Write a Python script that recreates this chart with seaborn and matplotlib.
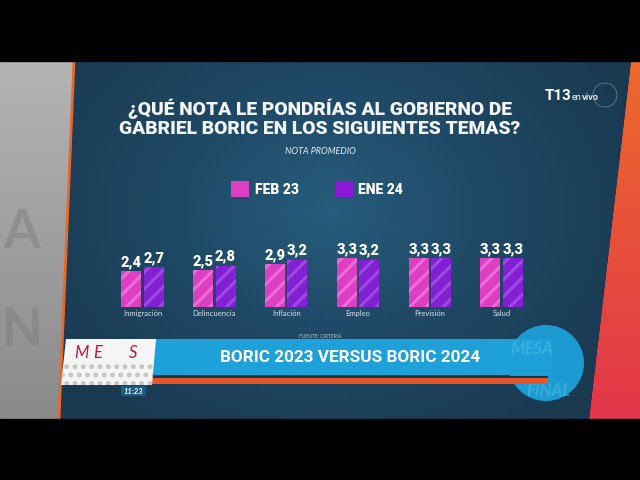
import numpy as np
import pandas as pd
import matplotlib
matplotlib.use("Agg")
import matplotlib.pyplot as plt
from matplotlib.patches import Polygon, Rectangle, Circle, Patch
import seaborn as sns

# ---- data ----
temas = ["Inmigración", "Delincuencia", "Inflación", "Empleo", "Previsión", "Salud"]
feb23 = [2.4, 2.5, 2.9, 3.3, 3.3, 3.3]
ene24 = [2.7, 2.8, 3.2, 3.2, 3.3, 3.3]
series = ["FEB 23", "ENE 24"]

title = "¿QUÉ NOTA LE PONDRÍAS AL GOBIERNO DE\nGABRIEL BORIC EN LOS SIGUIENTES TEMAS?"
subtitle = "NOTA PROMEDIO"
fuente = "FUENTE: CRITERIA"
banner = "BORIC 2023 VERSUS BORIC 2024"

df = pd.DataFrame({
    "tema": temas * 2,
    "periodo": [series[0]] * len(temas) + [series[1]] * len(temas),
    "nota": feb23 + ene24,
})

PINK, PINK_H = "#dc3fc2", "#ec6cd8"
PURP, PURP_H = "#8420d4", "#9d4ae2"

sns.set_theme(style="white")
plt.rcParams["font.family"] = ["Lato", "DejaVu Sans"]
plt.rcParams["hatch.linewidth"] = 2.2

fig = plt.figure(figsize=(6.4, 4.8), dpi=100)
fig.patch.set_facecolor("black")

# ---- background (pixel coords) ----
bg = fig.add_axes([0, 0, 1, 1], zorder=0)
bg.set_xlim(0, 640)
bg.set_ylim(480, 0)
bg.axis("off")

# left concrete strip
left_poly = Polygon([(0, 61), (74, 61), (59, 419), (0, 419)], closed=True,
                    facecolor="none", edgecolor="none")
bg.add_patch(left_poly)
gy = np.linspace(0, 1, 100)[:, None] * np.ones((1, 10))
im = bg.imshow(gy, extent=(0, 80, 419, 61), cmap=matplotlib.colors.LinearSegmentedColormap.from_list(
    "g", ["#b4b4b4", "#8a8a8a"]), aspect="auto", zorder=1)
im.set_clip_path(left_poly)
for t, yy in [("A", 232), ("N", 330)]:
    bg.text(22, yy, t, fontsize=38, fontweight="bold", color="#7c7c7c", alpha=0.45,
            ha="center", va="center", zorder=2)

# right orange/red strip
right_poly = Polygon([(631, 61), (640, 61), (640, 419), (589, 419)], closed=True,
                     facecolor="none", edgecolor="none")
bg.add_patch(right_poly)
im2 = bg.imshow(gy, extent=(585, 640, 419, 61), cmap=matplotlib.colors.LinearSegmentedColormap.from_list(
    "o", ["#ec6a2c", "#e2364a"]), aspect="auto", zorder=1)
im2.set_clip_path(right_poly)

# main panel with radial gradient
panel = Polygon([(74, 61), (631, 61), (589, 419), (59, 419)], closed=True,
                facecolor="none", edgecolor="none")
bg.add_patch(panel)
X, Y = np.meshgrid(np.linspace(0, 640, 160), np.linspace(0, 480, 120))
R = np.sqrt(((X - 330) / 330) ** 2 + ((Y - 210) / 260) ** 2)
im3 = bg.imshow(np.clip(R, 0, 1), extent=(0, 640, 480, 0), origin="upper",
                cmap=matplotlib.colors.LinearSegmentedColormap.from_list(
                    "b", ["#275c7c", "#1f4864", "#1a3a52"]), aspect="auto", zorder=1)
im3.set_clip_path(panel)
bg.plot([74, 59], [61, 419], color="#e8682a", lw=2, zorder=3)

# black bands
bg.add_patch(Rectangle((0, 0), 640, 61, color="black", zorder=5))
bg.add_patch(Rectangle((0, 419), 640, 61, color="black", zorder=5))

# T13 logo
bg.text(545, 96, "T13", fontsize=11, fontweight="bold", color="white",
        family=["Roboto", "DejaVu Sans"], ha="left", va="center", zorder=4)
bg.text(572, 97, "en", fontsize=6.5, color="white", ha="left", va="center", zorder=4)
bg.text(581.5, 97, "vivo", fontsize=6.5, fontweight="bold", color="white",
        ha="left", va="center", zorder=4)
bg.add_patch(Circle((605, 95), 12, facecolor="none", edgecolor="#8fa6b6", lw=0.6,
                    alpha=0.6, zorder=4))

# title / subtitle
bg.text(320, 118, title, fontsize=13.9, fontweight="black", color="#f2f4f6",
        family=["Roboto", "DejaVu Sans"],
        ha="center", va="center", linespacing=1.08, zorder=4)
bg.text(320, 152, subtitle, fontsize=6.5, fontstyle="italic", color="#e6ecf0",
        ha="center", va="center", zorder=4)
bg.text(320, 337, fuente, fontsize=3.5, color="#b8c6d0", ha="center", va="center", zorder=4)

# lower third banner
circ = Circle((546, 363), 38, facecolor="#1c9bd2", edgecolor="none", zorder=3)
bg.add_patch(circ)
bg.text(548, 391, "FINAL", fontsize=12, fontstyle="italic", fontweight="bold",
        color="#5cc0ea", alpha=0.45, ha="center", va="center", zorder=3)
bg.add_patch(Polygon([(153, 339), (552, 339), (552, 375), (150, 375)],
                     closed=True, facecolor="#1ea1d8", edgecolor="none", zorder=4))
bg.text(532, 349, "MESA", fontsize=12, fontstyle="italic", fontweight="bold",
        color="#6cc8ee", alpha=0.35, ha="center", va="center", zorder=4)
bg.add_patch(Polygon([(150, 375.5), (548, 375.5), (548, 377.5), (150, 377.5)],
                     closed=True, facecolor="#163648", edgecolor="none", zorder=4))
bg.add_patch(Polygon([(151, 378), (548, 378), (548, 384), (150, 384)],
                     closed=True, facecolor="#e9552b", edgecolor="none", zorder=4))
bg.text(350, 358, banner, fontsize=12.3, fontweight="bold", color="white",
        family=["Roboto", "DejaVu Sans"],
        ha="center", va="center", zorder=5)
bg.add_patch(Polygon([(66, 339), (156, 339), (152, 385), (61, 385)],
                     closed=True, facecolor="#f5f5f5", edgecolor="none", zorder=5))
bg.add_patch(Polygon([(63, 362), (154, 362), (152, 385), (61, 385)],
                     closed=True, facecolor="none", edgecolor="#c6c6c6", hatch="..",
                     lw=0, zorder=5))
for t, xx in [("M", 81), ("E", 98), ("S", 133)]:
    bg.text(xx, 353, t, fontsize=12, fontstyle="italic", color="#c4163a",
            ha="center", va="center", zorder=6)
bg.add_patch(Rectangle((121, 386), 25, 10, facecolor="#1b5b86", edgecolor="none", zorder=5))
bg.text(133.5, 391, "11:23", fontsize=5.5, fontstyle="italic", fontweight="bold",
        color="white", ha="center", va="center", zorder=6)

# ---- bar chart ----
ax = fig.add_axes([106.6 / 640, (480 - 307) / 480, 431 / 640, 59.2 / 480], zorder=2)
ax.patch.set_alpha(0)
sns.barplot(data=df, x="tema", y="nota", hue="periodo", palette=[PINK, PURP],
            width=0.625, gap=0.11, ax=ax, legend=False, saturation=1)
ax.set_ylim(0, 4)
ax.set_xlim(-0.5, 5.5)
for cont, hc, vals in zip(ax.containers, [PINK_H, PURP_H], [feb23, ene24]):
    for bar in cont:
        bar.set_hatch("//")
        bar.set_edgecolor(hc)
        bar.set_linewidth(0)
    ax.bar_label(cont, labels=[f"{v:.1f}".replace(".", ",") for v in vals],
                 padding=1.5, color="white", fontweight="black", fontsize=10.5,
                 family=["Roboto", "DejaVu Sans"])
ax.set_xlabel("")
ax.set_ylabel("")
ax.set_yticks([])
ax.tick_params(axis="x", length=0, pad=2.5, labelsize=5.5, labelcolor="#d4e0e8")
for s in ax.spines.values():
    s.set_visible(False)

# legend
handles = [Patch(facecolor=PINK, edgecolor="none"), Patch(facecolor="#8a1ad8", edgecolor="none")]
leg = fig.legend(handles, series, loc="center", bbox_to_anchor=(317 / 640, 1 - 189 / 480),
                 ncol=2, frameon=False, fontsize=10, handlelength=1.3, handleheight=1.3,
                 handletextpad=0.4, columnspacing=2.6, borderpad=0)
for t in leg.get_texts():
    t.set_color("white")
    t.set_fontweight("black")
    t.set_family(["Roboto", "DejaVu Sans"])
leg.set_zorder(10)

fig.savefig("out.png", dpi=100, facecolor=fig.get_facecolor())
